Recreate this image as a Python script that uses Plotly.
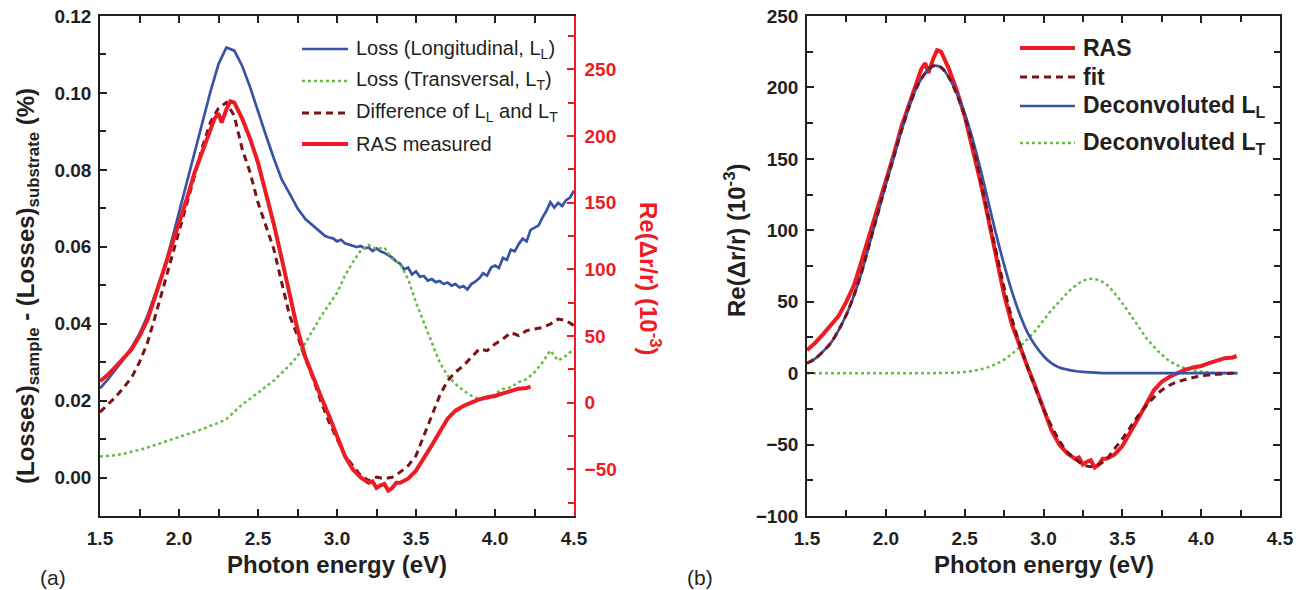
import numpy as np
import plotly.graph_objects as go

# ---------------- panel (a): loss spectra and measured RAS ----------------
# longitudinal loss L_L (coarse grid up to 2.85 eV, finer grid above)
e_loss_L = list(np.round(np.arange(1.50, 2.8501, 0.05), 3)) + list(np.round(np.arange(2.90, 4.5001, 0.025), 3))
loss_L = [0.0232, 0.0255, 0.0282, 0.0308, 0.0338, 0.0374, 0.0420, 0.0475, 0.0535, 0.0610,
          0.0690, 0.0770, 0.0850, 0.0930, 0.1005, 0.1075, 0.1118, 0.1110, 0.1070, 0.1015,
          0.0950, 0.0890, 0.0830, 0.0775, 0.0738, 0.0700, 0.0672, 0.0655,
          0.0637, 0.0628, 0.0624, 0.0622, 0.0614, 0.0618, 0.0609, 0.0606, 0.0604, 0.0599,
          0.0602, 0.0596, 0.0598, 0.0589, 0.0596, 0.0588, 0.0584, 0.0578, 0.0572, 0.0562,
          0.0556, 0.0541, 0.0546, 0.0528, 0.0536, 0.0522, 0.0524, 0.0512, 0.0516, 0.0508,
          0.0511, 0.0503, 0.0507, 0.0499, 0.0503, 0.0494, 0.0498, 0.0489, 0.0503, 0.0509,
          0.0518, 0.0531, 0.0525, 0.0546, 0.0551, 0.0545, 0.0571, 0.0566, 0.0592, 0.0588,
          0.0607, 0.0621, 0.0614, 0.0644, 0.0649, 0.0655, 0.0676, 0.0693, 0.0716, 0.0702,
          0.0714, 0.0706, 0.0721, 0.0728, 0.0746]

e_grid_a = list(np.round(np.arange(1.50, 4.5001, 0.05), 3))
# transversal loss L_T
loss_T = [0.0055, 0.0057, 0.0058, 0.0062, 0.0066, 0.0072, 0.0078, 0.0085, 0.0092, 0.0098,
          0.0105, 0.0111, 0.0118, 0.0126, 0.0135, 0.0142, 0.0152, 0.0170, 0.0190, 0.0205,
          0.0220, 0.0235, 0.0252, 0.0272, 0.0292, 0.0315, 0.0350, 0.0385, 0.0420, 0.0450,
          0.0480, 0.0525, 0.0560, 0.0590, 0.0605, 0.0594, 0.0598, 0.0568, 0.0555, 0.0516,
          0.0455, 0.0403, 0.0351, 0.0299, 0.0265, 0.0243, 0.0226, 0.0213, 0.0204, 0.0204,
          0.0217, 0.0230, 0.0235, 0.0248, 0.0256, 0.0274, 0.0299, 0.0330, 0.0304, 0.0317,
          0.0334]
# difference L_L - L_T
loss_diff = [0.0170, 0.0190, 0.0210, 0.0234, 0.0260, 0.0300, 0.0350, 0.0420, 0.0495, 0.0568,
             0.0640, 0.0712, 0.0790, 0.0862, 0.0925, 0.0960, 0.0975, 0.0940, 0.0854, 0.0793,
             0.0715, 0.0655, 0.0594, 0.0507, 0.0421, 0.0369, 0.0308, 0.0256, 0.0196, 0.0144,
             0.0100, 0.0057, 0.0031, 0.0005, -0.0008, 0.0001, -0.0003, 0.0001, 0.0014, 0.0031,
             0.0057, 0.0109, 0.0161, 0.0213, 0.0252, 0.0274, 0.0291, 0.0313, 0.0334, 0.0330,
             0.0347, 0.0360, 0.0377, 0.0369, 0.0382, 0.0386, 0.0390, 0.0399, 0.0412, 0.0408,
             0.0395]

# measured RAS, Re(dr/r) in 1e-3
ras_energy = [1.50, 1.55, 1.60, 1.65, 1.70, 1.75, 1.80, 1.85, 1.90, 1.95, 2.00, 2.05, 2.10,
              2.15, 2.20, 2.225, 2.25, 2.27, 2.30, 2.325, 2.35, 2.40, 2.45, 2.50, 2.55, 2.60,
              2.65, 2.70, 2.75, 2.80, 2.85, 2.90, 2.95, 3.00, 3.05, 3.10, 3.15, 3.20, 3.225,
              3.25, 3.275, 3.30, 3.325, 3.35, 3.375, 3.40, 3.45, 3.50, 3.55, 3.60, 3.65, 3.70,
              3.75, 3.80, 3.85, 3.90, 3.95, 4.00, 4.05, 4.10, 4.15, 4.20, 4.225]
ras_values = [16, 21, 27, 33, 40, 50, 62, 80, 98, 116, 134, 153, 173,
              190, 205, 213, 217, 210, 220, 226, 225, 213, 198, 180, 158, 134,
              108, 82, 55, 34, 18, 4, -10, -25, -40, -50, -56, -60, -59,
              -64, -62, -61, -66, -64, -60, -60, -57, -51, -42, -32, -22, -12,
              -6, -2.5, 0, 2.5, 4, 5, 7, 9, 10.5, 11, 12]

# ---------------- panel (b): fit and deconvoluted components ----------------
e_grid_b = list(np.round(np.arange(1.50, 4.2001, 0.05), 3)) + [4.23]
fit_values = [7, 10, 15, 21, 30, 41, 55, 72, 92, 112, 132, 151, 170, 187, 201, 210, 215, 214,
              207, 195, 180, 160, 136, 110, 85, 60, 38, 20, 4, -11, -25, -37, -47, -55, -60,
              -64, -65.5, -64, -60, -53, -46, -38, -30, -23, -17, -12, -8.5, -6, -4.5, -3,
              -2, -1.3, -0.8, -0.4, -0.1, 0]
deconv_L = [7, 10, 15, 21, 30, 41, 55, 72, 92, 112, 132, 151, 170, 187, 201, 210, 215, 214,
            207, 196, 182, 164, 143, 120, 97, 76, 57, 41, 28, 19, 12, 7, 4, 2.5, 1.5,
            0.9, 0.5, 0.2, 0, 0, 0, 0, 0, 0, 0, 0, 0, 0, 0, 0, 0, 0, 0, 0, 0, 0]
deconv_T = [0, 0, 0, 0, 0, 0, 0, 0, 0, 0, 0, 0, 0, 0, 0, 0, 0, 0.1, 0.2, 0.4, 0.8, 1.5,
            2.6, 4.2, 6.5, 9.5, 13.5, 18.5, 24, 30, 37, 44, 50, 56, 61, 64.5, 66, 65, 62,
            56, 49, 41, 33, 25, 18.5, 13, 8.5, 5.5, 3.3, 2, 1.1, 0.6, 0.3, 0.1, 0, 0]

# ---------------- styling ----------------
BLUE = "#3953a4"
GREEN = "#66bb46"
BROWN = "#7a1315"
RED = "#ed1c24"
INK = "#231f20"
FONT = "Liberation Sans, Arial, sans-serif"
W, H = 1305, 590


def px(x):
    return x / W


def py(y):
    return 1 - y / H


fig = go.Figure()

# panel (a)
fig.add_trace(go.Scatter(x=e_loss_L, y=loss_L, mode="lines", xaxis="x", yaxis="y",
                         line=dict(color=BLUE, width=2.7)))
fig.add_trace(go.Scatter(x=e_grid_a, y=loss_T, mode="lines", xaxis="x", yaxis="y",
                         line=dict(color=GREEN, width=2.5, dash="dot")))
fig.add_trace(go.Scatter(x=e_grid_a, y=loss_diff, mode="lines", xaxis="x", yaxis="y",
                         line=dict(color=BROWN, width=3, dash="7px,5px")))
fig.add_trace(go.Scatter(x=ras_energy, y=ras_values, mode="lines", xaxis="x", yaxis="y2",
                         line=dict(color=RED, width=4)))

# panel (b)
fig.add_trace(go.Scatter(x=e_grid_b, y=deconv_T, mode="lines", xaxis="x3", yaxis="y3",
                         line=dict(color=GREEN, width=2.5, dash="dot", shape="spline")))
fig.add_trace(go.Scatter(x=ras_energy, y=ras_values, mode="lines", xaxis="x3", yaxis="y3",
                         line=dict(color=RED, width=4)))
fig.add_trace(go.Scatter(x=e_grid_b, y=deconv_L, mode="lines", xaxis="x3", yaxis="y3",
                         line=dict(color=BLUE, width=2.7, shape="spline")))
fig.add_trace(go.Scatter(x=e_grid_b, y=fit_values, mode="lines", xaxis="x3", yaxis="y3",
                         line=dict(color=BROWN, width=3, dash="7px,5px", shape="spline")))

tickfont = dict(family=FONT, size=19, color=INK, weight="bold")
common_x = dict(range=[1.5, 4.5], dtick=0.5, tick0=1.5, tickformat=".1f", ticks="inside",
                ticklen=7, tickwidth=1.5, tickcolor=INK, showline=True, linecolor=INK,
                linewidth=1.5, mirror="allticks", showgrid=False, zeroline=False,
                tickfont=tickfont, ticklabelstandoff=4,
                minor=dict(dtick=0.25, ticks="inside", ticklen=6, tickwidth=1.5, tickcolor=INK))

y_dom = [py(516), py(16)]
fig.update_layout(
    width=W, height=H, margin=dict(l=0, r=0, t=0, b=0, autoexpand=False),
    paper_bgcolor="white", plot_bgcolor="white", showlegend=False,
    xaxis=dict(domain=[px(100), px(574)], anchor="y", **common_x),
    yaxis=dict(domain=y_dom, anchor="x", range=[-0.01, 0.12], dtick=0.02, tick0=0,
               tickformat=".2f", ticks="inside", ticklen=7, tickwidth=1.5, tickcolor=INK,
               showline=True, linecolor=INK, linewidth=1.5, mirror=False, showgrid=False,
               zeroline=False, tickfont=tickfont, ticklabelstandoff=3,
               minor=dict(dtick=0.01, ticks="inside", ticklen=6, tickwidth=1.5, tickcolor=INK)),
    yaxis2=dict(overlaying="y", side="right", anchor="x", range=[-85, 290], dtick=50, tick0=0,
                ticks="inside", ticklen=7, tickwidth=1.5, tickcolor=RED, showline=True,
                linecolor=RED, linewidth=1.5, showgrid=False, zeroline=False,
                tickfont=dict(family=FONT, size=19, color=RED, weight="bold"),
                ticklabelstandoff=5,
                minor=dict(dtick=25, ticks="inside", ticklen=6, tickwidth=1.5, tickcolor=RED)),
    xaxis3=dict(domain=[px(807), px(1280)], anchor="y3", **common_x),
    yaxis3=dict(domain=y_dom, anchor="x3", range=[-100, 250], dtick=50, tick0=0,
                ticks="inside", ticklen=7, tickwidth=1.5, tickcolor=INK, showline=True,
                linecolor=INK, linewidth=1.5, mirror="allticks", showgrid=False,
                zeroline=False, tickfont=tickfont, ticklabelstandoff=3,
                minor=dict(dtick=25, ticks="inside", ticklen=6, tickwidth=1.5, tickcolor=INK)),
)

# axis titles
title_font = dict(family=FONT, size=24, color=INK, weight="bold")
annotations = [
    dict(text="Photon energy (eV)", x=px(337), y=py(564), font=title_font),
    dict(text="Photon energy (eV)", x=px(1044), y=py(564), font=title_font),
    dict(text="(Losses)<sub>sample</sub> - (Losses)<sub>substrate</sub> (%)", x=px(27),
         y=py(286), textangle=-90, font=title_font),
    dict(text="Re(\u0394r/r) (10<sup>-3</sup>)", x=px(650), y=py(279), textangle=90,
         font=dict(family=FONT, size=24, color=RED, weight="bold")),
    dict(text="Re(\u0394r/r) (10<sup>-3</sup>)", x=px(735), y=py(240), textangle=-90,
         font=title_font),
    dict(text="(a)", x=px(53), y=py(577), font=dict(family=FONT, size=21, color=INK)),
    dict(text="(b)", x=px(700), y=py(577), font=dict(family=FONT, size=21, color=INK)),
]
for a in annotations:
    a.update(xref="paper", yref="paper", showarrow=False, xanchor="center", yanchor="middle")

# legend of panel (a)
legend_a = [
    ("Loss (Longitudinal, L<sub>L</sub>)", dict(color=BLUE, width=2.7), 49),
    ("Loss (Transversal, L<sub>T</sub>)", dict(color=GREEN, width=2.5, dash="dot"), 81),
    ("Difference of L<sub>L</sub> and L<sub>T</sub>", dict(color=BROWN, width=3, dash="7px,5px"), 113),
    ("RAS measured", dict(color=RED, width=4), 144),
]
# legend of panel (b)
legend_b = [
    ("RAS", dict(color=RED, width=4), 48),
    ("fit", dict(color=BROWN, width=3, dash="7px,5px"), 77),
    ("Deconvoluted L<sub>L</sub>", dict(color=BLUE, width=2.7), 106),
    ("Deconvoluted L<sub>T</sub>", dict(color=GREEN, width=2.5, dash="dot"), 143),
]
shapes = []
for text, line, yy in legend_a:
    shapes.append(dict(type="line", xref="paper", yref="paper", x0=px(302), x1=px(348),
                       y0=py(yy), y1=py(yy), line=line))
    annotations.append(dict(text=text, xref="paper", yref="paper", x=px(354), y=py(yy),
                            xanchor="left", yanchor="middle", showarrow=False,
                            font=dict(family=FONT, size=20, color=INK)))
for text, line, yy in legend_b:
    shapes.append(dict(type="line", xref="paper", yref="paper", x0=px(1020), x1=px(1075),
                       y0=py(yy), y1=py(yy), line=line))
    annotations.append(dict(text=text, xref="paper", yref="paper", x=px(1081), y=py(yy),
                            xanchor="left", yanchor="middle", showarrow=False,
                            font=dict(family=FONT, size=23, color=INK, weight="bold")))

fig.update_layout(annotations=annotations, shapes=shapes)
fig.write_html("out.html")
